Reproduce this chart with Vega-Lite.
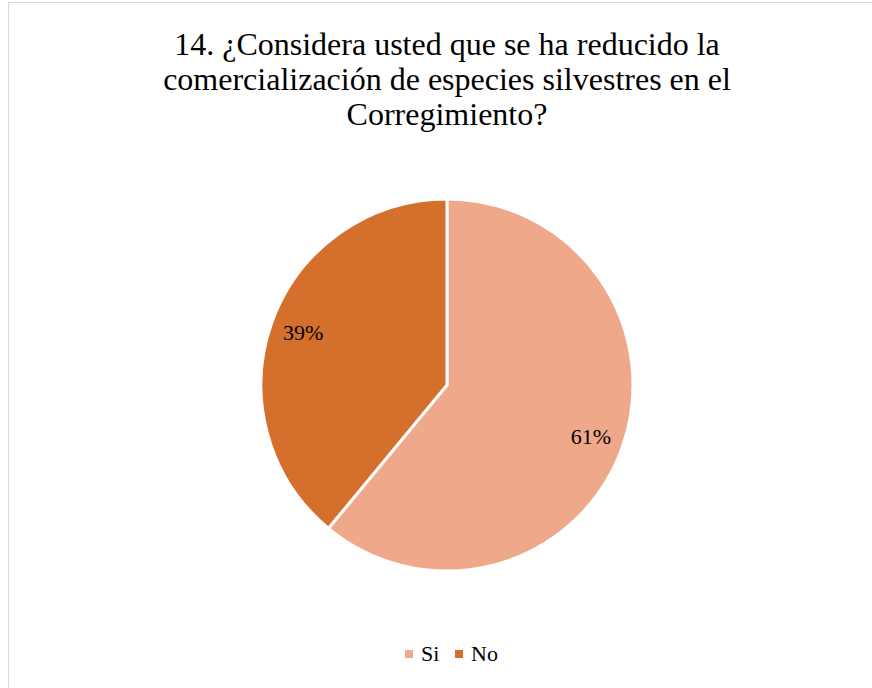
{
  "$schema": "https://vega.github.io/schema/vega-lite/v6.json",
  "width": 878,
  "height": 766,
  "autosize": {"type": "none"},
  "padding": {"left": 8, "top": 2, "right": 0, "bottom": 0},
  "background": "white",
  "config": {"font": "'Liberation Serif', 'Times New Roman', serif"},
  "view": {"stroke": "#d9d9d9", "strokeWidth": 1},
  "title": {
    "text": ["14. ¿Considera usted que se ha reducido la", "comercialización de especies silvestres en el", "Corregimiento?"],
    "orient": "top",
    "anchor": "middle",
    "baseline": "top",
    "font": "'Liberation Serif', 'Times New Roman', serif",
    "fontSize": 32,
    "fontWeight": "normal",
    "lineHeight": 35,
    "color": "#000000",
    "offset": 0,
    "dy": 130
  },
  "data": {
    "values": [
      {"respuesta": "Si", "valor": 61, "etiqueta": "61%", "orden": 1},
      {"respuesta": "No", "valor": 39, "etiqueta": "39%", "orden": 2}
    ]
  },
  "encoding": {
    "theta": {"field": "valor", "type": "quantitative", "stack": true},
    "order": {"field": "orden", "type": "quantitative"},
    "color": {
      "field": "respuesta",
      "type": "nominal",
      "sort": ["Si", "No"],
      "scale": {"domain": ["Si", "No"], "range": ["#F0A88A", "#D46F2C"]},
      "legend": {
        "title": null,
        "orient": "none",
        "direction": "horizontal",
        "legendX": 390,
        "legendY": 641,
        "symbolType": "square",
        "symbolSize": 64,
        "symbolStrokeWidth": 0,
        "labelFont": "'Liberation Serif', 'Times New Roman', serif",
        "labelFontSize": 22,
        "labelColor": "#000000",
        "labelOffset": 1,
        "columnPadding": 8,
        "padding": 0
      }
    }
  },
  "layer": [
    {
      "mark": {"type": "arc", "outerRadius": 186, "stroke": "white", "strokeWidth": 3}
    },
    {
      "mark": {"type": "text", "radius": 153, "font": "'Liberation Serif', 'Times New Roman', serif", "fontSize": 22, "color": "#000000"},
      "encoding": {
        "text": {"field": "etiqueta", "type": "nominal"},
        "color": {"value": "#000000"}
      }
    }
  ]
}
